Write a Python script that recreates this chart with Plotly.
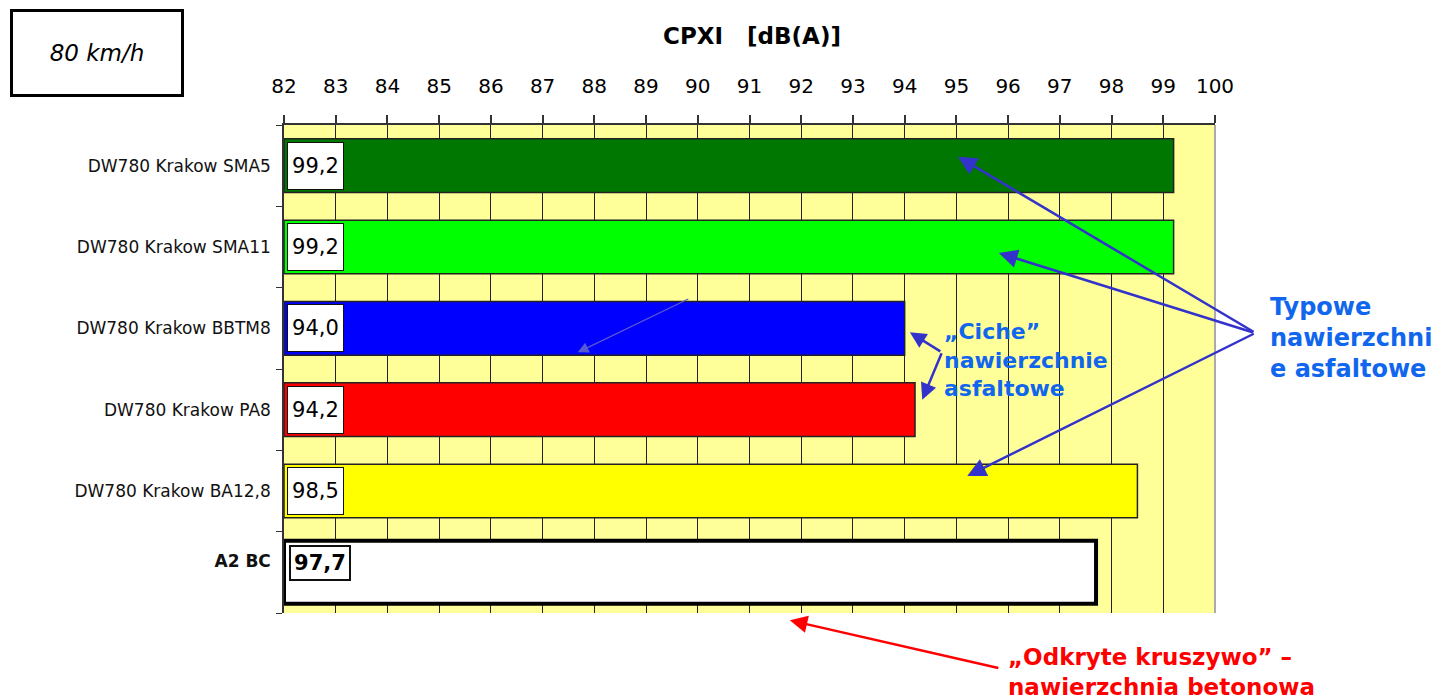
import plotly.graph_objects as go

# ---------------- data ----------------
categories = [
    "DW780 Krakow SMA5",
    "DW780 Krakow SMA11",
    "DW780 Krakow BBTM8",
    "DW780 Krakow PA8",
    "DW780 Krakow BA12,8",
    "A2 BC",
]
values = [99.2, 99.2, 94.0, 94.2, 98.5, 97.7]
bar_colors = ["#007700", "#00FF00", "#0000FF", "#FF0000", "#FFFF00", "#FFFFFF"]
axis_min = 82
axis_max = 100
tick_values = list(range(82, 101))
tick_labels = [str(t) for t in tick_values]
category_ticktext = [
    "DW780 Krakow SMA5",
    "DW780 Krakow SMA11",
    "DW780 Krakow BBTM8",
    "DW780 Krakow PA8",
    "DW780 Krakow BA12,8",
    "<b>A2 BC</b><br>\u00a0",
]
title_text = "CPXI\u00a0\u00a0\u00a0[dB(A)]"
speed_text = "80 km/h"
typowe_text = "Typowe<br>nawierzchni<br>e asfaltowe"
ciche_text = "\u201eCiche\u201d<br>nawierzchnie<br>asfaltowe"
beton_text = "\u201eOdkryte kruszywo\u201d \u2013<br>nawierzchnia betonowa"

# ---------------- layout geometry ----------------
W, H = 1447, 700
L, R, T, B = 284, 232, 125, 87
PW, PH = W - L - R, H - T - B

def px(x):  # pixel x -> paper
    return (x - L) / PW

def py(y):  # pixel y -> paper
    return (H - B - y) / PH

FONT = "DejaVu Sans"
BLUE_TXT = "#1166EE"
ARROW = "#3333CC"

widths = [0.66] * 5 + [0.775]
line_w = [1.5] * 5 + [4]
line_c = ["#222222"] * 5 + ["#000000"]

fig = go.Figure()
fig.add_trace(go.Bar(
    orientation="h",
    y=categories,
    x=[v - axis_min for v in values],
    base=axis_min,
    width=widths,
    marker=dict(color=bar_colors, line=dict(color=line_c, width=line_w)),
    hoverinfo="skip",
    showlegend=False,
))

annotations = []
# value labels
for i, (c, v) in enumerate(zip(categories, values)):
    txt = f"{v:.1f}".replace(".", ",")
    last = i == len(categories) - 1
    annotations.append(dict(
        x=axis_min, y=c, xref="x", yref="y",
        xanchor="left", yanchor="middle",
        xshift=5 if last else 3, yshift=9 if last else 0,
        text=f"<b>{txt}</b>" if last else txt,
        showarrow=False,
        bgcolor="white", bordercolor="#111111",
        borderwidth=2 if last else 1, borderpad=2,
        width=54 if last else 51, height=28 if last else 42,
        font=dict(family=FONT, size=21, color="black"),
    ))

# speed box
annotations.append(dict(
    x=px(97), y=py(53), xref="paper", yref="paper",
    xanchor="center", yanchor="middle",
    text=f"<i>{speed_text}</i>", showarrow=False,
    bordercolor="black", borderwidth=3, borderpad=2,
    width=164, height=78, bgcolor="white",
    font=dict(family=FONT, size=23, color="black"),
))

# text callouts
annotations.append(dict(
    x=px(1268), y=py(338), xref="paper", yref="paper",
    xanchor="left", yanchor="middle", align="left",
    text=f"<b>{typowe_text}</b>", showarrow=False,
    font=dict(family=FONT, size=24, color=BLUE_TXT),
))
annotations.append(dict(
    x=px(942), y=py(360), xref="paper", yref="paper",
    xanchor="left", yanchor="middle", align="left",
    text=f"<b>{ciche_text}</b>", showarrow=False,
    font=dict(family=FONT, size=22, color=BLUE_TXT),
))
annotations.append(dict(
    x=px(1006), y=py(672), xref="paper", yref="paper",
    xanchor="left", yanchor="middle", align="left",
    text=f"<b>{beton_text}</b>", showarrow=False,
    font=dict(family=FONT, size=23, color="#FF0000"),
))

# arrows (head in data coords, tail as pixel offset)
arrows = [
    # x, category, yshift, ax, ay, color, width, size
    (95.03, categories[0], 9, 297, 176, ARROW, 2.5, 1.5),
    (95.82, categories[1], -6, 256, 80, ARROW, 2.5, 1.5),
    (95.21, categories[4], 15, 288, -143, ARROW, 2.5, 1.5),
    (87.68, categories[2], -24, 112, -54, "#5A5AD0", 1.2, 1.8),
    (94.10, categories[2], -4, 32, 20, ARROW, 2.5, 1.3),
    (94.34, categories[3], 10, 20, -48, ARROW, 2.5, 1.3),
    (91.78, categories[5], -48, 210, 48, "#FF0000", 2.5, 1.4),
]
for x, c, ys, ax, ay, col, w, s in arrows:
    annotations.append(dict(
        x=x, y=c, xref="x", yref="y", yshift=ys,
        ax=ax, ay=ay, text="", showarrow=True,
        arrowhead=2, arrowsize=s, arrowwidth=w, arrowcolor=col,
        standoff=0,
    ))

fig.update_layout(
    width=W, height=H,
    margin=dict(l=L, r=R, t=T, b=B, pad=0),
    paper_bgcolor="white",
    plot_bgcolor="#FFFF99",
    title=dict(
        text=f"<b>{title_text}</b>",
        x=px(752), xref="paper", xanchor="center",
        y=1 - 36 / H, yref="container", yanchor="middle",
        font=dict(family=FONT, size=23, color="black"),
    ),
    xaxis=dict(
        side="top", range=[axis_min, axis_max],
        tickmode="array", tickvals=tick_values, ticktext=tick_labels,
        showgrid=True, gridcolor="#222222", gridwidth=1,
        showline=True, linecolor="#333333", linewidth=1.5,
        ticks="outside", ticklen=8, tickcolor="#333333", tickwidth=1.5,
        ticklabelstandoff=14,
        tickfont=dict(family=FONT, size=20, color="black"),
        zeroline=False, fixedrange=True,
    ),
    yaxis=dict(
        type="category", categoryorder="array", categoryarray=categories,
        range=[len(categories) - 0.5, -0.5], autorange=False,
        tickmode="array", tickvals=categories, ticktext=category_ticktext,
        tickson="boundaries",
        showgrid=False, zeroline=False,
        showline=True, linecolor="#333333", linewidth=1.5,
        ticks="outside", ticklen=6, tickcolor="#333333",
        ticklabelstandoff=8,
        tickfont=dict(family=FONT, size=17, color="#111111"),
        fixedrange=True,
    ),
    bargap=0.34,
    annotations=annotations,
    shapes=[dict(type="line", xref="paper", yref="paper", x0=1, x1=1, y0=0, y1=1,
                 line=dict(color="#AAAAAA", width=2), layer="above")],
)

fig.write_html("out.html", config={"displayModeBar": False},
               post_script="document.body.style.margin='0';")
